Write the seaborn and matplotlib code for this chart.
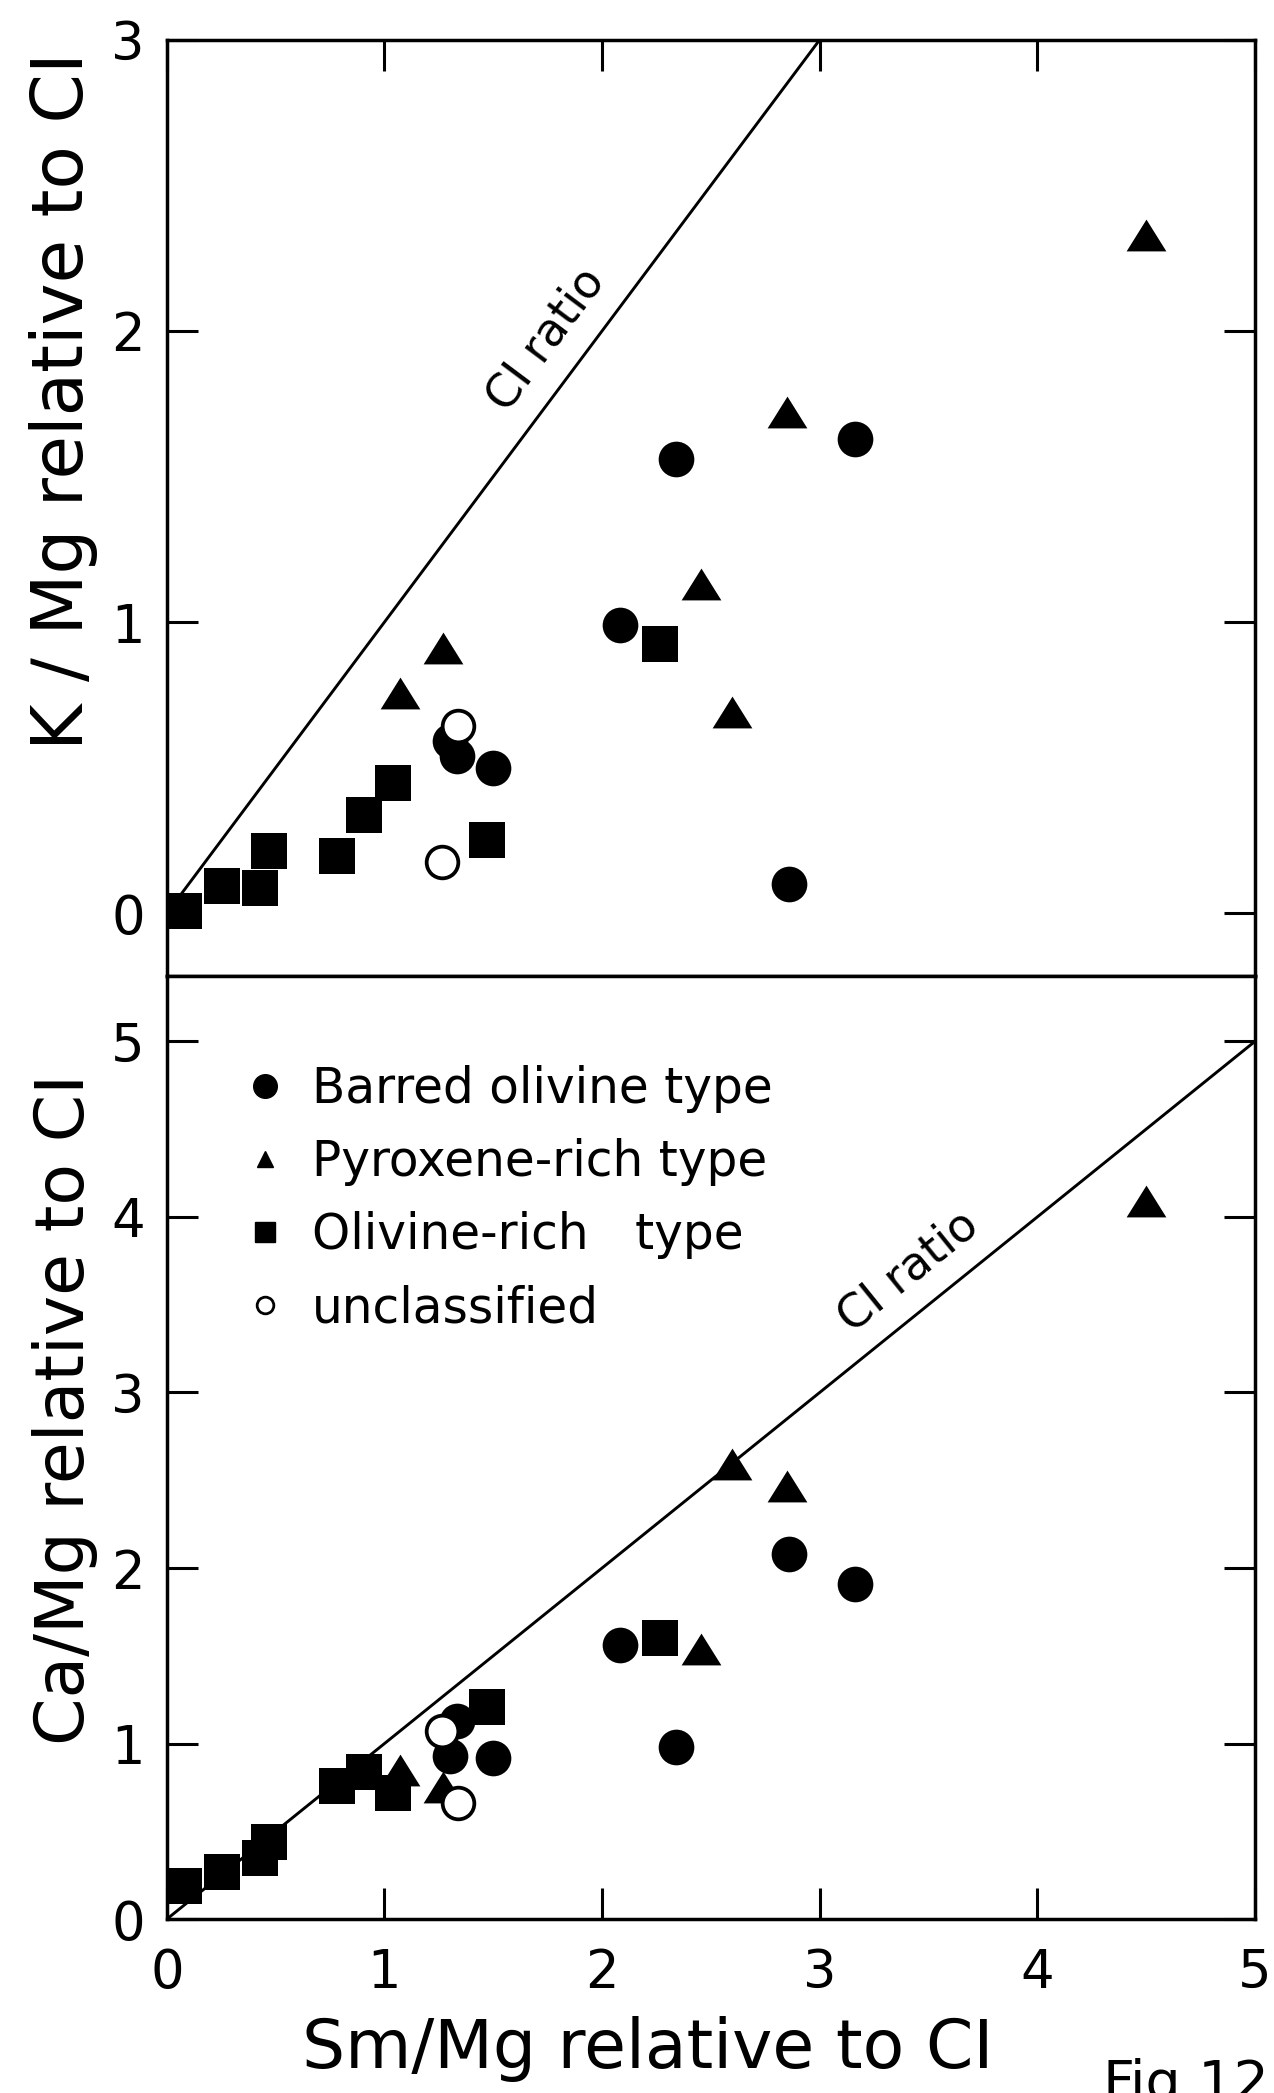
import matplotlib
matplotlib.use("Agg")
import matplotlib.pyplot as plt
from matplotlib.lines import Line2D
import seaborn as sns

# Chondrule compositions normalised to CI chondrite
# Barred olivine type
bo_sm = [2.34, 3.16, 2.08, 1.30, 1.335, 1.50, 2.86]
bo_k = [1.56, 1.63, 0.99, 0.59, 0.54, 0.50, 0.10]
bo_ca = [0.98, 1.91, 1.56, 0.93, 1.13, 0.92, 2.08]

# Pyroxene-rich type
px_sm = [4.50, 2.85, 2.455, 2.595, 1.27, 1.07]
px_k = [2.33, 1.72, 1.13, 0.69, 0.91, 0.757]
px_ca = [4.09, 2.465, 1.54, 2.59, 0.75, 0.85]

# Olivine-rich type
ol_sm = [0.08, 0.255, 0.43, 0.47, 0.78, 0.905, 1.037, 1.47, 2.265]
ol_k = [0.007, 0.095, 0.087, 0.215, 0.196, 0.336, 0.448, 0.25, 0.925]
ol_ca = [0.19, 0.27, 0.35, 0.44, 0.76, 0.84, 0.72, 1.21, 1.60]

# Unclassified
un_sm = [1.265, 1.34]
un_k = [0.175, 0.643]
un_ca = [1.07, 0.66]

# CI chondritic ratio (slope 1 through the origin)
ci_line = [0.0, 5.0]

labels = ["Barred olivine type", "Pyroxene-rich type",
          "Olivine-rich   type", "unclassified"]

sns.set_style("ticks")
plt.rcParams["font.family"] = ["DejaVu Sans"]
plt.rcParams.update({
    "text.color": "black",
    "axes.labelcolor": "black",
    "axes.edgecolor": "black",
    "xtick.color": "black",
    "ytick.color": "black",
})

tri = [(0.0, 0.8), (-1.0, -0.8), (1.0, -0.8)]

fig = plt.figure(figsize=(12.74, 20.93), dpi=100)
ax_k = fig.add_axes([0.131, 0.5337, 0.854, 0.4473])
ax_ca = fig.add_axes([0.131, 0.0831, 0.854, 0.4506], sharex=ax_k)

panels = [(ax_k, bo_k, px_k, ol_k, un_k), (ax_ca, bo_ca, px_ca, ol_ca, un_ca)]
for ax, yb, yp, yo, yu in panels:
    sns.lineplot(x=ci_line, y=ci_line, ax=ax, color="black", linewidth=2.1,
                 zorder=1)
    sns.scatterplot(x=ol_sm, y=yo, ax=ax, marker="s", s=640, color="black",
                    edgecolor="black", linewidth=0, zorder=3)
    sns.scatterplot(x=px_sm, y=yp, ax=ax, marker=tri, s=820, color="black",
                    edgecolor="black", linewidth=0, zorder=3)
    sns.scatterplot(x=bo_sm, y=yb, ax=ax, marker="o", s=660, color="black",
                    edgecolor="black", linewidth=0, zorder=3)
    sns.scatterplot(x=un_sm, y=yu, ax=ax, marker="o", s=520, color="white",
                    edgecolor="black", linewidth=2.7, zorder=4)
    for side in ("left", "right", "top", "bottom"):
        ax.spines[side].set_visible(True)
        ax.spines[side].set_linewidth(2.5)
    ax.set_xlim(0, 5)

# upper panel: K/Mg
ax_k.set_ylim(-0.2156, 3.0)
ax_k.set_yticks([0, 1, 2, 3])
ax_k.set_xticks([0, 1, 2, 3, 4, 5])
ax_k.tick_params(axis="x", which="both", direction="in", length=22, width=2.2,
                 top=True, bottom=False, labeltop=False, labelbottom=False)
ax_k.tick_params(axis="y", direction="in", length=22, width=2.2, left=True,
                 right=True, labelsize=38, pad=16)
ax_k.set_xlabel("")
ax_k.set_ylabel("K / Mg relative to CI", fontsize=51)
ax_k.yaxis.set_label_coords(-0.063, 0.614)
ax_k.text(1.745, 1.97, "CI ratio", fontsize=33, rotation=45,
          transform_rotates_text=True, rotation_mode="anchor",
          ha="center", va="center")

# lower panel: Ca/Mg
ax_ca.set_ylim(0, 5.373)
ax_ca.set_yticks([0, 1, 2, 3, 4, 5])
ax_ca.tick_params(axis="x", direction="in", length=22, width=2.2, top=False,
                  bottom=True, labelbottom=True, labelsize=38, pad=20)
ax_ca.tick_params(axis="y", direction="in", length=22, width=2.2, left=True,
                  right=True, labelsize=38, pad=16)
ax_ca.set_xlabel("Sm/Mg relative to CI", fontsize=49)
ax_ca.xaxis.set_label_coords(0.442, -0.103)
ax_ca.set_ylabel("Ca/Mg relative to CI", fontsize=49)
ax_ca.yaxis.set_label_coords(-0.063, 0.54)
ax_ca.text(3.41, 3.69, "CI ratio", fontsize=33, rotation=45,
           transform_rotates_text=True, rotation_mode="anchor",
           ha="center", va="center")

handles = [
    Line2D([], [], ls="", marker="o", markersize=17, color="black"),
    Line2D([], [], ls="", marker="^", markersize=12, color="black"),
    Line2D([], [], ls="", marker="s", markersize=15, color="black"),
    Line2D([], [], ls="", marker="o", markersize=12, markerfacecolor="white",
           markeredgecolor="black", markeredgewidth=2),
]
ax_ca.legend(handles, labels, loc="upper left", bbox_to_anchor=(0.0726, 0.906),
             frameon=False, fontsize=35, handlelength=0.8, handletextpad=0.55,
             labelspacing=0.52, borderpad=0, borderaxespad=0)

fig.text(1102 / 1274, 1 - 2058 / 2093, "Fig.12", fontsize=40, ha="left",
         va="top")

fig.savefig("out.png", dpi=100)
